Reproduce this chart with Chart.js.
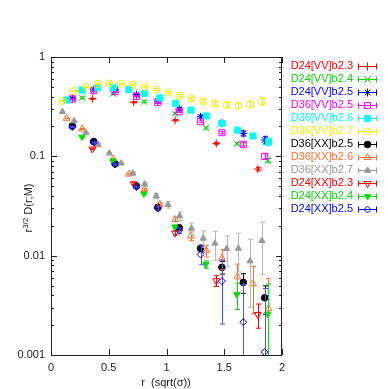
<!DOCTYPE html>
<html>
<head>
<meta charset="utf-8">
<script src="https://cdn.jsdelivr.net/npm/chart.js@4.4.1/dist/chart.umd.min.js"></script>
<style>
  html, body { margin: 0; padding: 0; background: #fff; }
  #wrap { width: 388px; height: 389px; }
</style>
</head>
<body>
<div id="wrap"><canvas id="c" width="388" height="389"></canvas></div>
<script>
// ---------- r values (in units of sqrt(sigma)) per coupling ----------
const rB23 = [0.358, 0.716, 1.074, 1.431, 1.790];
const rB24 = [0.268, 0.536, 0.804, 1.072, 1.340, 1.608, 1.876];
const rB25 = [0.185, 0.370, 0.555, 0.740, 0.925, 1.110, 1.295, 1.480, 1.665, 1.850];
const rB26 = [0.135, 0.269, 0.404, 0.538, 0.673, 0.807, 0.942, 1.076, 1.211, 1.345, 1.480, 1.614, 1.749, 1.883];
const rB27 = [0.099, 0.200, 0.302, 0.403, 0.505, 0.607, 0.708, 0.810, 0.911, 1.013, 1.114, 1.216, 1.318, 1.419, 1.521, 1.622, 1.724, 1.826];

// ---------- VV channel ----------
const vvD24b23 = [0.380, 0.350, 0.231, 0.135, 0.0745];
const vvD24b23Err = [0.005, 0.005, 0.004, 0.003, 0.003];
const vvD24b24 = [0.389, 0.427, 0.355, 0.270, 0.193, 0.134, 0.0912];
const vvD24b24Err = [0.008, 0.010, 0.008, 0.007, 0.005, 0.004, 0.004];
const vvD24b25 = [0.384, 0.466, 0.466, 0.417, 0.360, 0.299, 0.250, 0.215, 0.170, 0.146];
const vvD24b25Err = [0.006, 0.008, 0.008, 0.008, 0.008, 0.010, 0.010, 0.010, 0.010, 0.013];
const vvD36b25 = [0.378, 0.458, 0.447, 0.402, 0.347, 0.281, 0.223, 0.173, 0.132, 0.100];
const vvD36b25Err = [0.004, 0.005, 0.005, 0.005, 0.005, 0.005, 0.005, 0.005, 0.005, 0.006];
const vvD36b26 = [0.369, 0.465, 0.491, 0.491, 0.469, 0.431, 0.387, 0.341, 0.292, 0.255, 0.215, 0.184, 0.160, 0.140];
const vvD36b26Err = [0.004, 0.004, 0.004, 0.004, 0.004, 0.004, 0.004, 0.005, 0.005, 0.005, 0.006, 0.007, 0.008, 0.012];
const vvD36b27 = [0.360, 0.455, 0.499, 0.535, 0.543, 0.538, 0.526, 0.499, 0.469, 0.438, 0.409, 0.380, 0.358, 0.339, 0.329, 0.323, 0.334, 0.358];
const vvD36b27Err = [0.005, 0.006, 0.007, 0.008, 0.008, 0.008, 0.009, 0.009, 0.010, 0.010, 0.011, 0.012, 0.013, 0.015, 0.018, 0.020, 0.024, 0.030];

// ---------- XX channel ----------
const xxD36b25 = [0.2018, 0.141, 0.0842, 0.0502, 0.0307, 0.0191, 0.01185, 0.00762, 0.00538, 0.00377];
const xxD36b25Err = [0.002, 0.002, 0.0015, 0.001, 0.0008, 0.0006, 0.0009, 0.0011, 0.0012, 0.0012];
const xxD36b26 = [0.2414, 0.1883, 0.1321, 0.0939, 0.0663, 0.0465, 0.0329, 0.0231, 0.01575, 0.0112, 0.0094, 0.00613, 0.00521, 0.00292];
const xxD36b26Err = [0.002, 0.002, 0.002, 0.0015, 0.0012, 0.001, 0.001, 0.001, 0.0016, 0.0015, 0.0021, 0.0021, 0.0026, 0.003];
const xxD36b27 = [0.281, 0.2267, 0.1728, 0.1339, 0.1074, 0.0852, 0.0674, 0.0524, 0.0398, 0.0326, 0.0251, 0.01883, 0.01494, 0.0133, 0.01174, 0.01185, 0.00882, 0.01413];
const xxD36b27Err = [0.002, 0.002, 0.002, 0.002, 0.002, 0.002, 0.002, 0.002, 0.0024, 0.0025, 0.0025, 0.0025, 0.0028, 0.0043, 0.004, 0.005, 0.0058, 0.0077];
const xxD24b23 = [0.1184, 0.053, 0.0169, 0.00559, 0.00256];
const xxD24b23Err = [0.002, 0.0012, 0.0008, 0.0007, 0.0007];
const xxD24b24 = [0.1564, 0.0903, 0.042, 0.0195, 0.00817, 0.00407, 0.00258];
const xxD24b24Err = [0.002, 0.0015, 0.001, 0.0008, 0.0007, 0.0012, 0.0026];
const xxD24b25 = [0.197, 0.1377, 0.0827, 0.0491, 0.0298, 0.0179, 0.0103, 0.00555, 0.00214, 0.00107];
const xxD24b25Err = [0.002, 0.002, 0.0015, 0.001, 0.001, 0.0012, 0.0022, 0.0035, 0.003, 0.0036];

const yTicks = [0.001, 0.01, 0.1, 1];
const xTicks = [0, 0.5, 1, 1.5, 2];

const FONT = '"Liberation Sans", Arial, Helvetica, sans-serif';
const RED = '#ff0000', GREEN = '#00dd00', BLUE = '#0000ff', MAGENTA = '#ff00ff',
      CYAN = '#00ffff', YELLOW = '#f4f000', BLACK = '#000000', ORANGE = '#ff7030', GRAY = '#999999';

function series(label, xs, ys, errs, color, style, filled, radius, rot, barColor) {
    return {
        label,
        data: xs.map((x, i) => ({ x, y: ys[i] })),
        errs,
        barColor: barColor || color,
        borderColor: color,
        backgroundColor: filled ? color : 'rgba(0,0,0,0)',
        pointStyle: style,
        pointRotation: rot || 0,
        pointRadius: radius,
        pointHoverRadius: radius,
        pointBorderWidth: 1,
        showLine: false
    };
}

const datasets = [
    series('D24[VV]b2.3', rB23, vvD24b23, vvD24b23Err, RED, 'cross', false, 4),
    series('D24[VV]b2.4', rB24, vvD24b24, vvD24b24Err, GREEN, 'crossRot', false, 4.5),
    series('D24[VV]b2.5', rB25, vvD24b25, vvD24b25Err, BLUE, 'star', false, 4),
    series('D36[VV]b2.5', rB25, vvD36b25, vvD36b25Err, MAGENTA, 'rect', false, 4.3),
    series('D36[VV]b2.6', rB26, vvD36b26, vvD36b26Err, CYAN, 'rect', true, 4.3),
    series('D36[VV]b2.7', rB27, vvD36b27, vvD36b27Err, YELLOW, 'circle', false, 3.5),
    series('D36[XX]b2.5', rB25, xxD36b25, xxD36b25Err, BLACK, 'circle', true, 3.3),
    series('D36[XX]b2.6', rB26, xxD36b26, xxD36b26Err, ORANGE, 'triangle', false, 4),
    series('D36[XX]b2.7', rB27, xxD36b27, xxD36b27Err, GRAY, 'triangle', true, 3.6, 0, '#b8b8b8'),
    series('D24[XX]b2.3', rB23, xxD24b23, xxD24b23Err, RED, 'triangle', false, 4, 180),
    series('D24[XX]b2.4', rB24, xxD24b24, xxD24b24Err, GREEN, 'triangle', true, 3.6, 180),
    series('D24[XX]b2.5', rB25, xxD24b25, xxD24b25Err, BLUE, 'rectRot', false, 3.5, 0, '#5050ff')
];
// later entries drawn on top, like gnuplot
datasets.forEach((d, i) => { d.order = datasets.length - i; });

// ---------- Error bars, frame, ticks, legend, titles ----------
const decor = {
    id: 'decor',
    beforeDatasetDraw(chart, args) {
        const ds = chart.data.datasets[args.index];
        const { ctx, chartArea: a } = chart;
        const xs = chart.scales.x, ys = chart.scales.y;
        ctx.save();
        ctx.beginPath();
        ctx.rect(a.left, a.top, a.right - a.left, a.bottom - a.top);
        ctx.clip();
        ctx.strokeStyle = ds.barColor;
        ctx.lineWidth = 1;
        ds.data.forEach((p, i) => {
            const e = ds.errs[i];
            const px = Math.round(xs.getPixelForValue(p.x)) + 0.5;
            const yh = ys.getPixelForValue(p.y + e);
            const lo = p.y - e;
            const yl = lo > 0 ? ys.getPixelForValue(lo) : a.bottom + 20;
            ctx.beginPath();
            ctx.moveTo(px, yh); ctx.lineTo(px, yl);
            ctx.moveTo(px - 2.5, yh); ctx.lineTo(px + 2.5, yh);
            ctx.moveTo(px - 2.5, yl); ctx.lineTo(px + 2.5, yl);
            ctx.stroke();
        });
        ctx.restore();
    },
    afterDraw(chart) {
        const { ctx, chartArea: a } = chart;
        const xs = chart.scales.x, ys = chart.scales.y;
        ctx.save();
        // frame
        ctx.strokeStyle = '#222';
        ctx.lineWidth = 1;
        ctx.strokeRect(a.left + 0.5, a.top + 0.5, a.right - a.left - 1, a.bottom - a.top);
        // y ticks, major and minor, both sides
        ctx.beginPath();
        for (let d = 0; d < yTicks.length; d++) {
            const base = yTicks[d];
            for (let m = 1; m <= 9; m++) {
                const v = base * m;
                if (v > 1.0001) break;
                const py = Math.round(ys.getPixelForValue(v)) + 0.5;
                const len = m === 1 ? 6 : 3;
                ctx.moveTo(a.left, py); ctx.lineTo(a.left + len, py);
                ctx.moveTo(a.right, py); ctx.lineTo(a.right - len, py);
            }
        }
        // x ticks, bottom and top
        xTicks.forEach(v => {
            const px = Math.round(xs.getPixelForValue(v)) + 0.5;
            ctx.moveTo(px, a.bottom); ctx.lineTo(px, a.bottom - 6);
            ctx.moveTo(px, a.top); ctx.lineTo(px, a.top + 6);
        });
        ctx.stroke();

        // legend
        const helpers = Chart.helpers;
        ctx.font = '11px ' + FONT;
        ctx.textAlign = 'right';
        ctx.textBaseline = 'middle';
        chart.data.datasets.forEach((ds, i) => {
            const ly = 66 + i * 13;
            ctx.fillStyle = ds.borderColor;
            ctx.fillText(ds.label, 353, ly);
            ctx.strokeStyle = ds.borderColor;
            ctx.lineWidth = 1;
            ctx.beginPath();
            ctx.moveTo(358, ly + 0.5); ctx.lineTo(377, ly + 0.5);
            ctx.moveTo(358.5, ly - 2.5); ctx.lineTo(358.5, ly + 3.5);
            ctx.moveTo(376.5, ly - 2.5); ctx.lineTo(376.5, ly + 3.5);
            ctx.stroke();
            ctx.fillStyle = ds.backgroundColor;
            helpers.drawPoint(ctx, {
                pointStyle: ds.pointStyle,
                rotation: ds.pointRotation,
                radius: ds.pointRadius,
                borderWidth: 1
            }, 367.5, ly + 0.5);
        });

        // axis titles
        ctx.fillStyle = '#222';
        ctx.textAlign = 'center';
        ctx.textBaseline = 'middle';
        ctx.font = '11px ' + FONT;
        ctx.fillText('r  (sqrt(\u03c3))', 166, 383);

        ctx.translate(28, 208);
        ctx.rotate(-Math.PI / 2);
        ctx.textAlign = 'left';
        ctx.textBaseline = 'alphabetic';
        const big = '11px ' + FONT, small = '8px ' + FONT;
        ctx.font = big; const w1 = ctx.measureText('r').width;
        ctx.font = small; const w2 = ctx.measureText('3/2').width;
        ctx.font = big; const w3 = ctx.measureText(' D(r;M)').width;
        let x0 = -(w1 + w2 + w3) / 2;
        ctx.font = big; ctx.fillText('r', x0, 4);
        ctx.font = small; ctx.fillText('3/2', x0 + w1, -0.5);
        ctx.font = big; ctx.fillText(' D(r;M)', x0 + w1 + w2, 4);
        ctx.restore();
    }
};

new Chart(document.getElementById('c'), {
    type: 'scatter',
    data: { datasets },
    options: {
        responsive: false,
        animation: false,
        devicePixelRatio: 1,
        layout: { padding: { left: 0, right: 106, top: 57, bottom: 0 } },
        plugins: { legend: { display: false }, tooltip: { enabled: false } },
        scales: {
            x: {
                type: 'linear', min: 0, max: 2,
                afterFit(s) { s.height = 34; },
                afterBuildTicks(s) { s.ticks = xTicks.map(v => ({ value: v })); },
                ticks: { callback: v => String(v), font: { family: FONT, size: 11 }, color: '#222', padding: 6, maxRotation: 0 },
                grid: { display: false, drawTicks: false },
                border: { display: false }
            },
            y: {
                type: 'logarithmic', min: 0.001, max: 1,
                afterFit(s) { s.width = 51; },
                afterBuildTicks(s) { s.ticks = yTicks.map(v => ({ value: v })); },
                ticks: { callback: v => String(v), font: { family: FONT, size: 11 }, color: '#222', padding: 6 },
                grid: { display: false, drawTicks: false },
                border: { display: false }
            }
        }
    },
    plugins: [decor]
});
</script>
</body>
</html>
